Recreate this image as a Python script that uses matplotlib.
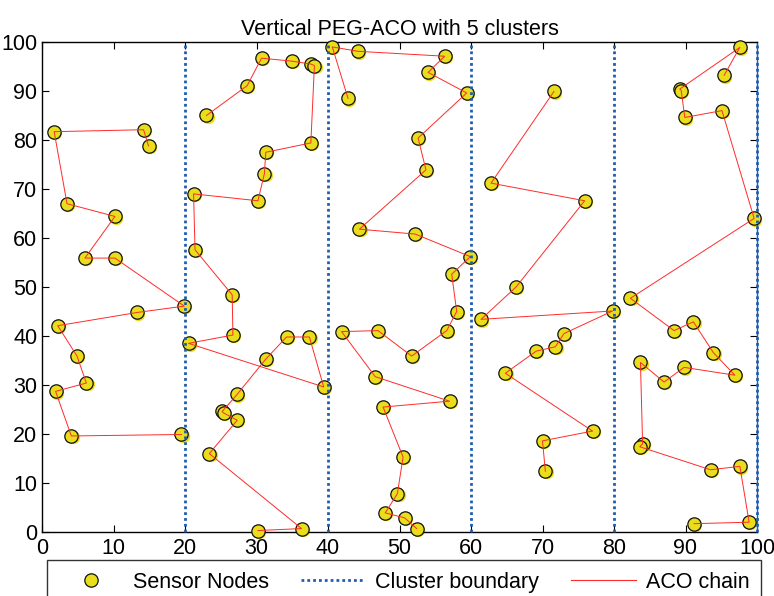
import matplotlib
matplotlib.use("Agg")
import matplotlib.pyplot as plt
from matplotlib.lines import Line2D
import matplotlib.transforms as mtransforms
from matplotlib import font_manager

_names = {f.name for f in font_manager.fontManager.ttflist}
if 'Liberation Sans Narrow' in _names:
    FONT = 'Liberation Sans Narrow'
    FS = 19
else:
    FONT = 'Liberation Sans'
    FS = 15.5
plt.rcParams['font.family'] = [FONT, 'DejaVu Sans']

# Cluster chains (ACO chain order)
c1_x = [14.9, 14.2, 1.7, 3.5, 10.2, 6.0, 10.2, 19.9, 13.3, 2.2, 4.9, 6.2, 1.9, 4.1, 19.5]
c1_y = [78.8, 82.1, 81.7, 67.0, 64.4, 55.9, 55.9, 46.1, 44.8, 42.1, 35.9, 30.4, 28.7, 19.6, 19.9]

c2_x = [23.0, 28.7, 30.7, 34.9, 37.6, 38.1, 37.6, 31.3, 31.1, 30.2, 21.2, 21.4, 26.6, 26.7, 20.5,
        39.4, 37.4, 34.2, 31.3, 27.3, 25.2, 25.4, 27.3, 23.4, 36.3, 30.2]
c2_y = [85.0, 91.1, 96.7, 96.1, 95.5, 95.2, 79.4, 77.5, 73.1, 67.6, 69.0, 57.6, 48.4, 40.2, 38.5,
        29.6, 39.8, 39.8, 35.3, 28.1, 24.6, 24.3, 22.8, 16.0, 0.7, 0.3]

c3_x = [42.8, 40.6, 44.2, 56.3, 54.0, 59.4, 52.6, 53.7, 44.4, 52.2, 59.9, 57.3, 58.0, 56.6, 51.7,
        47.0, 41.9, 46.6, 57.0, 47.7, 50.5, 49.7, 48.0, 50.7, 52.4]
c3_y = [88.5, 99.0, 98.1, 97.1, 93.8, 89.6, 80.4, 73.9, 61.8, 60.8, 56.2, 52.6, 45.0, 41.1, 35.9,
        41.1, 40.9, 31.7, 26.7, 25.5, 15.3, 7.8, 3.9, 2.9, 0.7]

c4_x = [71.6, 62.8, 75.9, 66.3, 61.4, 79.8, 73.0, 71.8, 69.1, 64.8, 77.0, 70.0, 70.4]
c4_y = [89.9, 71.2, 67.6, 50.0, 43.4, 45.1, 40.5, 37.8, 36.9, 32.4, 20.6, 18.6, 12.4]

c5_x = [95.4, 97.6, 89.2, 89.4, 89.9, 95.1, 99.6, 82.3, 88.4, 91.1, 93.9, 96.9, 89.8, 87.0, 83.7,
        84.0, 83.6, 93.5, 97.6, 98.9, 91.2]
c5_y = [93.2, 98.9, 90.4, 90.1, 84.6, 86.0, 64.0, 47.7, 41.1, 42.9, 36.6, 32.0, 33.6, 30.6, 34.6,
        18.0, 17.4, 12.7, 13.4, 2.0, 1.7]

boundaries = [20, 40, 60, 80, 100]
ticks = [0, 10, 20, 30, 40, 50, 60, 70, 80, 90, 100]
title = "Vertical PEG-ACO with 5 clusters"
legend_labels = ["Sensor Nodes", "Cluster boundary", "ACO chain"]

clusters = [(c1_x, c1_y), (c2_x, c2_y), (c3_x, c3_y), (c4_x, c4_y), (c5_x, c5_y)]

YELLOW = '#E9DD1C'
BLUE = '#1F5DAE'
RED = '#FF2A2A'

fig = plt.figure(figsize=(7.74, 5.96), dpi=100)
ax = fig.add_axes([42 / 774, 1 - 532 / 596, 715 / 774, 490 / 596])

shadow = mtransforms.offset_copy(ax.transData, fig=fig, x=1.2, y=-1.2, units='dots')
for xs, ys in clusters:
    ax.plot(xs, ys, linestyle='none', marker='o', markersize=9.6, markerfacecolor=YELLOW,
            markeredgecolor='none', transform=shadow, clip_on=False, zorder=2)
    ax.plot(xs, ys, linestyle='none', marker='o', markersize=9.6, markerfacecolor=YELLOW,
            markeredgecolor='#111111', markeredgewidth=0.9, clip_on=False, zorder=3)
for xs, ys in clusters:
    ax.plot(xs, ys, color=RED, linewidth=0.7, zorder=4, clip_on=False)
for b in boundaries:
    ax.axvline(b, color=BLUE, linewidth=2.0, linestyle=(0, (1, 1.1)), zorder=5, clip_on=False)

ax.set_xlim(0, 100)
ax.set_ylim(0, 100)
ax.set_xticks(ticks)
ax.set_yticks(ticks)
ax.tick_params(direction='in', top=True, right=True, labelsize=FS, length=5, width=0.8)
ax.tick_params(axis='x', pad=4)
ax.tick_params(axis='y', pad=3.5)
for s in ax.spines.values():
    s.set_linewidth(1.0)
ax.spines['right'].set_color(BLUE)
ax.set_title(title, fontsize=FS, pad=5)

handles = [
    Line2D([], [], linestyle='none', marker='o', markersize=9.6, markerfacecolor=YELLOW,
           markeredgecolor='#111111', markeredgewidth=0.9),
    Line2D([], [], color=BLUE, linewidth=2.0, linestyle=(0, (1, 1.1))),
    Line2D([], [], color=RED, linewidth=0.8),
]
leg = fig.legend(handles, legend_labels, loc='upper left', bbox_to_anchor=(46.5 / 774, 1 - 560 / 596),
                 ncol=3, fontsize=FS, frameon=True, fancybox=False, edgecolor='black',
                 handlelength=3.0, handletextpad=0.45, columnspacing=1.5, borderpad=0.55,
                 borderaxespad=0)
leg.get_frame().set_linewidth(1.0)

fig.savefig('out.png', dpi=100)
